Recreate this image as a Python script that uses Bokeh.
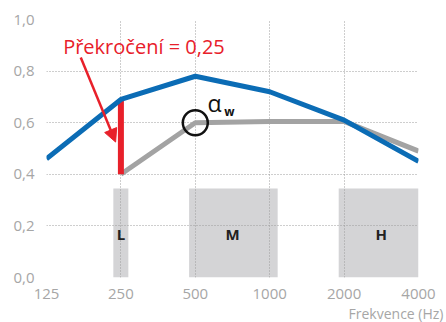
from bokeh.plotting import figure
from bokeh.models import Range1d, FixedTicker, Label, Arrow, NormalHead, Title
from bokeh.embed import file_html
from bokeh.resources import INLINE

# ---- data ----
freq_measured = [125, 250, 500, 1000, 2000, 4000]
alpha_measured = [0.46, 0.69, 0.78, 0.72, 0.61, 0.45]

freq_ref = [250, 500, 1000, 2000, 4000]
alpha_ref = [0.40, 0.60, 0.605, 0.605, 0.49]

x_ticks = [125, 250, 500, 1000, 2000, 4000]
x_tick_labels = ["125", "250", "500", "1000", "2000", "4000"]
y_ticks = [0.0, 0.2, 0.4, 0.6, 0.8, 1.0]
y_tick_labels = ["0,0", "0,2", "0,4", "0,6", "0,8", "1,0"]

band_names = ["L", "M", "H"]
band_left = [233, 472, 1902]
band_right = [268, 1077, 4000]
band_top = [0.345, 0.345, 0.345]
band_label_x = [250, 707, 2828]
band_label_y = [0.17, 0.17, 0.17]

exceed_freq = [250]
exceed_low = [0.40]
exceed_high = [0.69]
exceed_text = "Překročení = 0,25"

alpha_w_freq = [500]
alpha_w_value = [0.60]

RED = "#e8202a"
BLUE = "#0b6cb5"
GRAY = "#a3a3a3"
BAND = "#d4d4d6"
TXT = "#a6a6a6"

p = figure(width=446, height=322, x_axis_type="log",
           x_range=Range1d(125, 4000), y_range=Range1d(0, 1.0),
           output_backend="svg", toolbar_location=None,
           min_border_left=46, min_border_right=28,
           min_border_top=19, min_border_bottom=45)
p.outline_line_color = None
p.background_fill_color = "white"
p.border_fill_color = "white"

# axes
p.xaxis.ticker = FixedTicker(ticks=x_ticks)
p.yaxis.ticker = FixedTicker(ticks=y_ticks)
p.xaxis.major_label_overrides = dict(zip(x_ticks, x_tick_labels))
p.yaxis.major_label_overrides = dict(zip(y_ticks, y_tick_labels))
for ax in (p.xaxis, p.yaxis):
    ax.axis_line_color = None
    ax.major_tick_line_color = None
    ax.minor_tick_line_color = None
    ax.major_tick_in = 0
    ax.major_tick_out = 0
    ax.major_label_text_font = "Open Sans"
    ax.major_label_text_font_size = "15px"
    ax.major_label_text_color = TXT
p.xaxis.major_label_standoff = 11
p.yaxis.major_label_standoff = 12

for g in (p.xgrid, p.ygrid):
    g.grid_line_color = "#9c9c9c"
    g.grid_line_dash = "1 2"
    g.grid_line_width = 1

# bands
p.quad(left=band_left, right=band_right, bottom=[0, 0, 0], top=band_top,
       fill_color=BAND, line_color=None, level="image")
p.text(x=band_label_x, y=band_label_y, text=band_names,
       text_align="center", text_baseline="middle",
       text_font_size="15px", text_font_style="bold", text_color="#222222",
       text_font={"value": "Open Sans"})

# lines
p.line(freq_ref, alpha_ref, line_color=GRAY, line_width=5)
p.segment(x0=exceed_freq, y0=exceed_low, x1=exceed_freq, y1=exceed_high,
          line_color=RED, line_width=6)
p.line(freq_measured, alpha_measured, line_color=BLUE, line_width=5)

# alpha_w marker
p.scatter(alpha_w_freq, alpha_w_value, marker="circle", size=25,
          fill_color=None, line_color="#111111", line_width=2.5)
p.add_layout(Label(x=560, y=0.675, text="α", text_font="Open Sans",
                   text_font_size="23px", text_color="#111111",
                   text_align="left", text_baseline="middle"))
p.add_layout(Label(x=655, y=0.645, text="w", text_font="Open Sans",
                   text_font_size="12px", text_font_style="bold",
                   text_color="#111111",
                   text_align="left", text_baseline="middle"))

# exceedance annotation
p.add_layout(Label(x=146, y=0.895, text=exceed_text, text_font="Open Sans",
                   text_font_size="20px", text_color=RED,
                   text_align="left", text_baseline="middle"))
p.add_layout(Arrow(x_start=172, y_start=0.853, x_end=238, y_end=0.525,
                   line_color=RED, line_width=2.5,
                   end=NormalHead(size=13, fill_color=RED, line_color=RED)))

# axis title (below, right aligned)
p.add_layout(Title(text="Frekvence (Hz)", align="right", offset=-25,
                   standoff=0, text_font="Open Sans", text_font_size="14px",
                   text_font_style="normal", text_color=TXT), "below")

open("out.html", "w").write(file_html(p, INLINE))
